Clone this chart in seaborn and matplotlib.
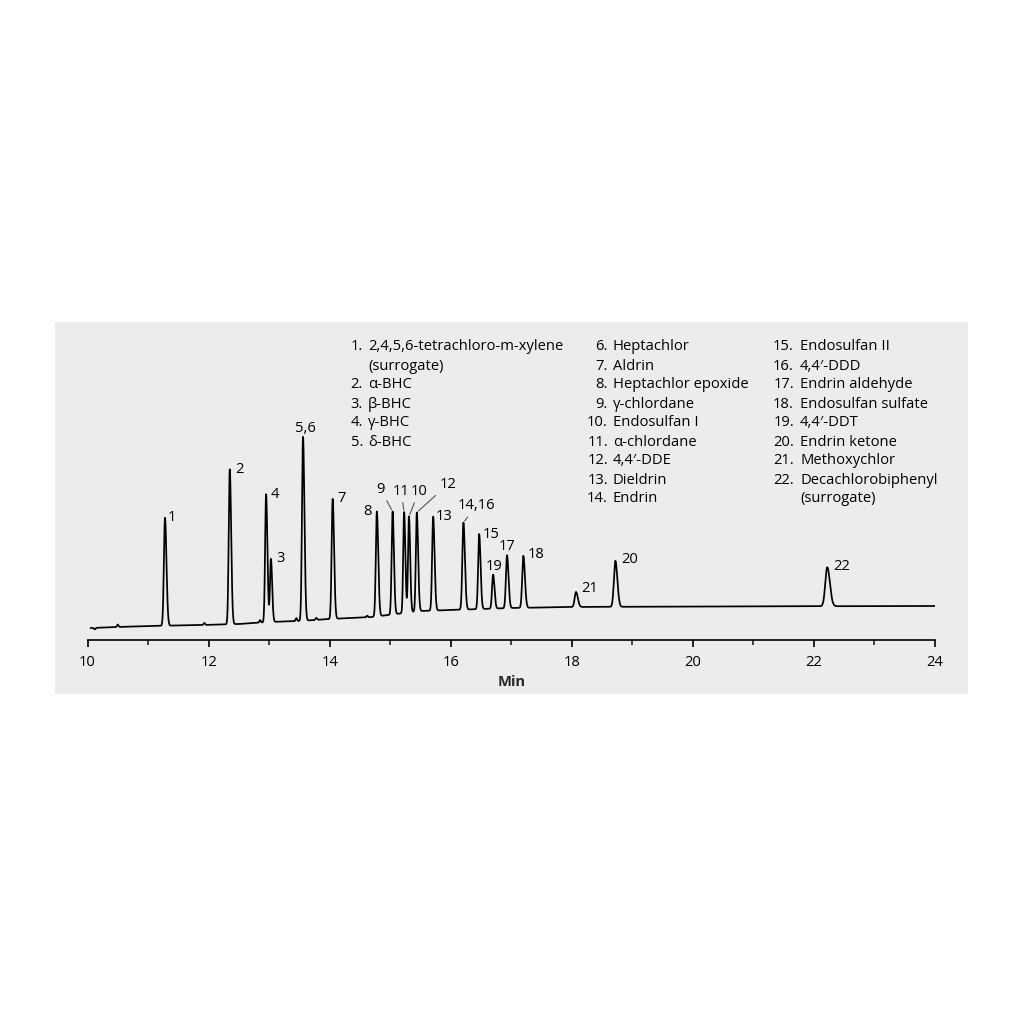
import numpy as np
import pandas as pd
import matplotlib
matplotlib.use('Agg')
import matplotlib.pyplot as plt
import seaborn as sns
from matplotlib.patches import Rectangle
from matplotlib.ticker import MultipleLocator

# %% ── Data ───────────────────────────────────────────────
# peak labels, retention times (min), heights above baseline, widths (sigma, min)
peak_labels = ['1', '2', '4', '3', '5,6', '7', '8', '9', '11', '10', '12',
               '13', '14,16', '15', '19', '17', '18', '21', '20', '22']
peak_rt = [11.28, 12.35, 12.95, 13.03, 13.56, 14.05, 14.78, 15.04, 15.23,
           15.31, 15.44, 15.71, 16.21, 16.47, 16.70, 16.93, 17.20, 18.07,
           18.72, 22.22]
peak_height = [108, 155, 128, 63, 184, 120, 105, 103, 101, 96, 99, 94, 87,
               75, 34, 53, 52, 15, 46, 39]
peak_sigma = [0.018, 0.017, 0.016, 0.015, 0.017, 0.017, 0.017, 0.016, 0.015,
              0.015, 0.016, 0.017, 0.018, 0.017, 0.017, 0.018, 0.019, 0.022,
              0.024, 0.032]

# small baseline bumps
bump_rt = [10.12, 10.50, 11.93, 12.85, 13.45, 13.78, 14.62]
bump_height = [-1.5, 2.5, 2.0, 2.5, 3.0, 2.0, 1.5]

# baseline level (drift) points
base_t = [10.05, 10.5, 11.0, 11.9, 12.5, 13.0, 13.5, 14.0, 14.7, 15.5, 16.0,
          17.0, 18.0, 20.0, 24.0]
base_y = [12, 13, 14, 15, 16, 18, 19, 21, 23, 29, 30, 32, 33, 33.5, 34]

# legend
compounds = ['2,4,5,6-tetrachloro-m-xylene\n(surrogate)', 'α-BHC', 'β-BHC',
             'γ-BHC', 'δ-BHC', 'Heptachlor', 'Aldrin', 'Heptachlor epoxide',
             'γ-chlordane', 'Endosulfan I', 'α-chlordane', '4,4′-DDE',
             'Dieldrin', 'Endrin', 'Endosulfan II', '4,4′-DDD',
             'Endrin aldehyde', 'Endosulfan sulfate', '4,4′-DDT',
             'Endrin ketone', 'Methoxychlor',
             'Decachlorobiphenyl\n(surrogate)']

# %% ── Build the trace ────────────────────────────────────
t = np.linspace(10.05, 24.0, 9000)
signal = np.interp(t, base_t, base_y)
for rt, h, s in zip(peak_rt, peak_height, peak_sigma):
    # slight tailing: wider on the back side
    sig = np.where(t < rt, s, s * 1.35)
    signal = signal + h * np.exp(-0.5 * ((t - rt) / sig) ** 2)
for rt, h in zip(bump_rt, bump_height):
    signal = signal + h * np.exp(-0.5 * ((t - rt) / 0.012) ** 2)
trace = pd.DataFrame({'Min': t, 'signal': signal})

# %% ── Figure ─────────────────────────────────────────────
sns.set_style('ticks')
plt.rcParams['font.family'] = ['Open Sans', 'DejaVu Sans']
plt.rcParams['text.color'] = 'black'
FS = 10.6

W = 1024
fig = plt.figure(figsize=(10.24, 10.24), dpi=100)
fig.patches.append(Rectangle((55 / W, 1 - 694 / W), 913 / W, 372 / W,
                             transform=fig.transFigure, facecolor='#ececec',
                             edgecolor='none', zorder=-10))

ax = fig.add_axes([87.5 / W, 1 - 640 / W, (935 - 87.5) / W, 310 / W])
ax.set_zorder(5)
ax.patch.set_alpha(0)
sns.lineplot(data=trace, x='Min', y='signal', ax=ax, color='black',
             linewidth=1.25, estimator=None, sort=False)

ax.set_xlim(10, 24)
ax.set_ylim(0, 310)
sns.despine(ax=ax, left=True)
ax.set_yticks([])
ax.set_ylabel('')
ax.xaxis.set_major_locator(MultipleLocator(2))
ax.xaxis.set_minor_locator(MultipleLocator(1))
ax.tick_params(axis='x', which='major', length=5, width=1.2, pad=5.5,
               labelsize=FS, colors='black')
ax.tick_params(axis='x', which='minor', length=3.5, width=1.2)
ax.spines['bottom'].set_linewidth(1.2)
ax.spines['bottom'].set_color('black')
ax.set_xlabel('Min', fontsize=FS, fontweight='bold', labelpad=4)

# %% ── Peak labels ────────────────────────────────────────
# offsets in pixels from the peak top: (dx, dy, ha, leader line?)
label_pos = {
    '1': (3, 0, 'left', False), '2': (5, 0, 'left', False),
    '4': (5, 0, 'left', False), '3': (5, 0, 'left', False),
    '5,6': (2, 8, 'center', False), '7': (5, 0, 'left', False),
    '8': (-5, 0, 'right', False), '9': (-12, 22, 'center', True),
    '11': (-3, 21, 'center', True), '10': (10, 25, 'center', True),
    '12': (31, 28, 'center', True), '13': (3, 0, 'left', False),
    '14,16': (13, 17, 'center', True), '15': (4, 0, 'left', False),
    '19': (1, 8, 'center', False), '17': (0, 9, 'center', False),
    '18': (4, 1, 'left', False), '21': (5, 3, 'left', False),
    '20': (6, 1, 'left', False), '22': (6, 1, 'left', False),
}
for lab, rt in zip(peak_labels, peak_rt):
    top = np.max(signal[np.abs(t - rt) < 0.01])
    dx, dy, ha, leader = label_pos[lab]
    arrow = dict(arrowstyle='-', color='#555555', lw=0.8,
                 shrinkA=0.5, shrinkB=1.5) if leader else None
    ax.annotate(lab, xy=(rt, top), xytext=(dx, dy), textcoords='offset pixels',
                ha=ha, va='center', fontsize=FS, arrowprops=arrow)

# %% ── Compound legend ────────────────────────────────────
columns = [(0, 5, 363, 368), (5, 14, 608, 613), (14, 22, 794, 800)]
row_h = 19
for start, stop, num_x, name_x in columns:
    y = 347
    for i in range(start, stop):
        lines = compounds[i].split('\n')
        fig.text(num_x / W, 1 - y / W, f'{i + 1}.', ha='right', va='center',
                 fontsize=FS)
        for line in lines:
            fig.text(name_x / W, 1 - y / W, line, ha='left', va='center',
                     fontsize=FS)
            y += row_h

fig.savefig('out.png', dpi=100)
